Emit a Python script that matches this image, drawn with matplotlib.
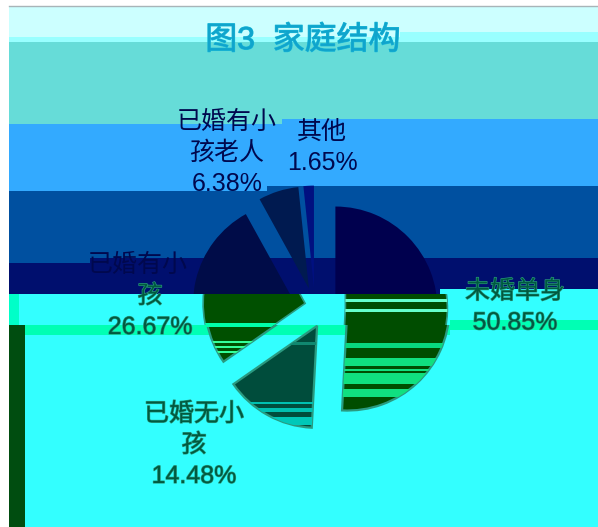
import matplotlib
matplotlib.use("Agg")
import matplotlib.pyplot as plt
from matplotlib.patches import Rectangle
import matplotlib.patheffects as pe

W, H = 598, 527

# chart data
categories = ["未婚单身", "已婚无小孩", "已婚有小孩", "已婚有小孩老人", "其他"]
shares = [50.85, 14.48, 26.67, 6.38, 1.65]
wrapped = ["未婚单身", "已婚无小\n孩", "已婚有小\n孩", "已婚有小\n孩老人", "其他"]
title = "图3  家庭结构"

# label centres in image pixels (x, y of the middle of the block)
label_pos = [(503, 307), (182, 445), (138, 296), (227, 153), (322, 147)]

FONT = ["Liberation Sans", "Noto Sans CJK SC"]
LINE_PITCH = 31

# image-row glitches: background blocks (x0, y0, x1, y1, colour)
bg_blocks = [
    (9, 6, W, 37, "#ccffff"),
    (400, 32, W, 37, "#99ffff"),
    (9, 37, W, 42, "#99ffff"),
    (9, 42, W, 124, "#66dcd8"),
    (282, 119, W, 124, "#33aaff"),
    (9, 124, W, 191, "#33aaff"),
    (267, 186, W, 191, "#0050a0"),
    (9, 191, W, 263, "#0050a0"),
    (90, 258, W, 263, "#000f6e"),
    (9, 263, W, 294, "#000f6e"),
    (9, 294, W, 527, "#33ffff"),
    (440, 289, W, 294, "#33ffff"),
    (9, 294, 19, 325, "#00ffc8"),
    (9, 325, 25, 527, "#004d10"),
    (25, 325, 450, 335, "#00ffb4"),
    (450, 320, W, 330, "#00ffb4"),
]


def clip_rect(ax, y0, y1):
    return Rectangle((0, H - y1), W, y1 - y0, transform=ax.transData)


def draw_band(ax, y0, y1, dx, colors, edge="none", lw=0):
    """Draw the exploded pie, only visible between rows y0 and y1."""
    wedges, _ = ax.pie(shares, colors=colors, explode=[20.4] * 5, radius=102,
                       center=(315 + dx, H - 308), startangle=90,
                       counterclock=False, frame=True,
                       wedgeprops=dict(edgecolor=edge, linewidth=lw))
    for w, c in zip(wedges, colors):
        w.set_clip_on(True)
        w.set_clip_path(clip_rect(ax, y0, y1))
        if c == "none":
            w.set_visible(False)


fig = plt.figure(figsize=(W / 100, H / 100), dpi=100, facecolor="white")
ax = fig.add_axes([0, 0, 1, 1])

for x0, y0, x1, y1, c in bg_blocks:
    ax.add_patch(Rectangle((x0, H - y1), x1 - x0, y1 - y0, facecolor=c, edgecolor="none"))
ax.plot([9, W], [H - 6, H - 6], color="#a8b4b8", lw=1)

# upper rows: dark navy pie
draw_band(ax, 0, 294, 0, ["#00004e", "#00004e", "#000c48", "#001a50", "#001080"])
# lower rows: pie is shifted sideways and recoloured
lower = ["#004d00", "#004d3c", "#005000", "none", "none"]
draw_band(ax, 294, 325, 10, lower, "#2a9a80", 1.2)
draw_band(ax, 325, 527, 12, lower, "#2a9a80", 1.6)

# colour stripes per wedge: (wedge index, y0, y1, colour)
stripes = [
    (0, 299, 302, "#66ffcc"), (0, 309, 312, "#66ffcc"), (0, 343, 348, "#08d880"),
    (0, 358, 366, "#10e080"), (0, 369, 371, "#10e080"), (0, 373, 384, "#10e080"),
    (0, 389, 397, "#10e080"),
    (2, 323, 327, "#00ffaa"), (2, 341, 343, "#33ff99"), (2, 346, 348, "#33ff99"),
    (2, 351, 353, "#33ff99"),
    (1, 342, 345, "#108870"), (1, 402, 404, "#00c0b0"), (1, 408, 412, "#00c0b0"),
    (1, 417, 425, "#00c8b8"),
]
for idx, y0, y1, c in stripes:
    cols = ["none"] * 5
    cols[idx] = c
    draw_band(ax, y0, y1, 12 if y0 >= 325 else 10, cols)

# labels, one text per line so each line takes the colour of its zone
for name, val, (x, cy) in zip(wrapped, shares, label_pos):
    lines = f"{name}\n{val:.2f}%".split("\n")
    for i, line in enumerate(lines):
        y = cy + (i - (len(lines) - 1) / 2) * LINE_PITCH
        if y < 285:
            ax.text(x, H - y, line, color="#00084e", fontsize=18, family=FONT,
                    ha="center", va="center")
        else:
            t = ax.text(x + 12, H - y, line, color="#005a40", fontsize=18, family=FONT,
                        ha="center", va="center")
            t.set_path_effects([pe.withStroke(linewidth=0.9, foreground="#2a9a80")])

t = ax.text(303, H - 41, title, color="#10a4cc", fontsize=23, family=FONT,
            ha="center", va="center")
t.set_path_effects([pe.withStroke(linewidth=0.8, foreground="#18b8d8")])

ax.set_xlim(0, W)
ax.set_ylim(0, H)
ax.set_aspect("auto")
ax.axis("off")

fig.savefig("out.png", dpi=100, facecolor="white")
plt.close(fig)
